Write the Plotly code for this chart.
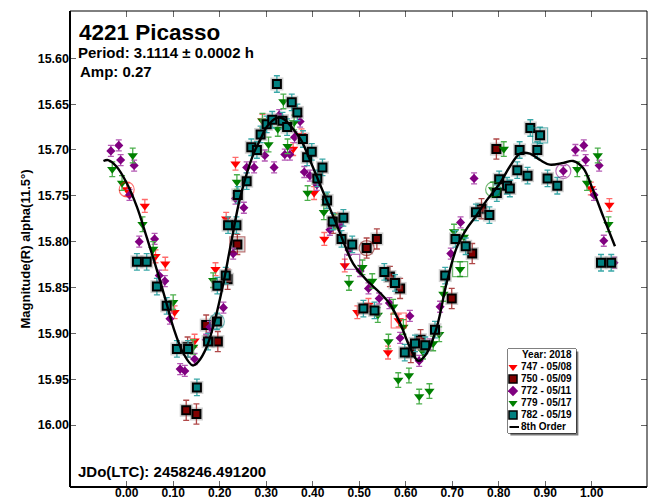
import plotly.graph_objects as go

# ---------------- data (phase, magnitude) ----------------
phase_747 = [0.000, 0.039, 0.062, 0.083, 0.103, 0.146, 0.191, 0.214, 0.234, 0.292, 0.358, 0.376,
             0.403, 0.425, 0.448, 0.469, 0.496, 0.520, 0.562, 0.585, 0.998, 1.038]
mag_747 = [15.743, 15.761, 15.816, 15.824, 15.877, 15.908, 15.830, 15.775, 15.715, 15.668, 15.699, 15.684,
           15.747, 15.797, 15.776, 15.826, 15.877, 15.869, 15.921, 15.886, 15.742, 15.760]

phase_750 = [0.128, 0.131, 0.150, 0.171, 0.196, 0.217, 0.238, 0.444, 0.516, 0.538, 0.566, 0.588,
             0.611, 0.632, 0.699, 0.743, 0.763, 0.795]
mag_750 = [15.984, 15.915, 15.988, 15.891, 15.909, 15.841, 15.803, 15.780, 15.807, 15.797, 15.838, 15.851,
           15.921, 15.907, 15.862, 15.813, 15.764, 15.699]

phase_772 = [-0.034, -0.017, -0.013, 0.006, 0.016, 0.027, 0.060, 0.070, 0.082, 0.093, 0.115, 0.125,
             0.146, 0.171, 0.179, 0.208, 0.229, 0.234, 0.252, 0.258, 0.274, 0.297, 0.317, 0.328,
             0.340, 0.351, 0.361, 0.373, 0.382, 0.394, 0.409, 0.437, 0.459, 0.478, 0.502, 0.520,
             0.543, 0.565, 0.588, 0.609, 0.629, 0.652, 0.674, 0.697, 0.718, 0.747, 0.939, 0.965,
             0.983, 0.987, 1.005, 1.016, 1.026, 1.048]
mag_772 = [15.701, 15.695, 15.711, 15.749, 15.717, 15.800, 15.797, 15.837, 15.843, 15.884, 15.939, 15.941,
           15.928, 15.907, 15.893, 15.872, 15.813, 15.753, 15.763, 15.719, 15.719, 15.706, 15.719, 15.662,
           15.705, 15.705, 15.686, 15.669, 15.724, 15.728, 15.738, 15.787, 15.782, 15.809, 15.832, 15.851,
           15.862, 15.867, 15.905, 15.881, 15.930, 15.912, 15.871, 15.813, 15.779, 15.731, 15.723, 15.700,
           15.695, 15.711, 15.749, 15.717, 15.799, 15.823]

phase_779 = [-0.031, -0.010, 0.013, 0.034, 0.057, 0.100, 0.143, 0.186, 0.237, 0.292, 0.305, 0.325,
             0.337, 0.346, 0.360, 0.389, 0.424, 0.429, 0.448, 0.478, 0.507, 0.528, 0.540, 0.563,
             0.573, 0.584, 0.595, 0.607, 0.629, 0.637, 0.651, 0.659, 0.672, 0.681, 0.704, 0.717,
             0.725, 0.788, 0.811, 0.969, 0.990, 1.013, 1.036]
mag_779 = [15.721, 15.736, 15.706, 15.781, 15.808, 15.866, 15.915, 15.842, 15.735, 15.668, 15.694, 15.677,
           15.647, 15.696, 15.670, 15.747, 15.768, 15.756, 15.778, 15.845, 15.828, 15.843, 15.880, 15.909,
           15.871, 15.951, 15.893, 15.946, 15.969, 15.920, 15.963, 15.911, 15.901, 15.857, 15.789, 15.830,
           15.795, 15.743, 15.699, 15.721, 15.736, 15.706, 15.781]

phase_782 = [0.022, 0.043, 0.065, 0.086, 0.108, 0.132, 0.151, 0.175, 0.194, 0.195, 0.213, 0.218,
             0.236, 0.239, 0.258, 0.268, 0.280, 0.288, 0.301, 0.313, 0.323, 0.335, 0.345, 0.355,
             0.367, 0.379, 0.388, 0.398, 0.410, 0.421, 0.431, 0.443, 0.462, 0.466, 0.485, 0.509,
             0.533, 0.554, 0.577, 0.598, 0.620, 0.642, 0.663, 0.685, 0.707, 0.729, 0.751, 0.780,
             0.796, 0.801, 0.818, 0.824, 0.840, 0.845, 0.862, 0.868, 0.883, 0.889, 0.905, 0.926,
             1.020, 1.042]
mag_782 = [15.822, 15.822, 15.849, 15.870, 15.917, 15.917, 15.959, 15.909, 15.887, 15.848, 15.837, 15.782,
           15.782, 15.749, 15.734, 15.697, 15.700, 15.683, 15.672, 15.667, 15.628, 15.668, 15.675, 15.648,
           15.659, 15.688, 15.708, 15.702, 15.731, 15.719, 15.755, 15.778, 15.797, 15.774, 15.803, 15.873,
           15.875, 15.833, 15.845, 15.921, 15.911, 15.913, 15.896, 15.837, 15.797, 15.805, 15.768, 15.771,
           15.747, 15.732, 15.739, 15.742, 15.722, 15.700, 15.728, 15.676, 15.700, 15.684, 15.731, 15.739,
           15.823, 15.823]

# per-session photometric error (mag)
err_747, err_750, err_772, err_779, err_782 = 0.007, 0.011, 0.006, 0.008, 0.009

# 8th-order Fourier fit, sampled from the reference curve
fit_phase = [-0.050, -0.040, -0.022, 0.000, 0.022, 0.043, 0.065, 0.085, 0.100, 0.122, 0.142, 0.154,
             0.172, 0.190, 0.208, 0.225, 0.244, 0.272, 0.287, 0.301, 0.323, 0.337, 0.358, 0.376,
             0.394, 0.416, 0.434, 0.452, 0.466, 0.487, 0.516, 0.545, 0.566, 0.588, 0.609, 0.627,
             0.645, 0.667, 0.688, 0.710, 0.731, 0.750, 0.774, 0.803, 0.824, 0.846, 0.867, 0.889,
             0.910, 0.939, 0.960, 0.982, 1.003, 1.025, 1.050]
fit_mag = [15.712, 15.711, 15.718, 15.736, 15.762, 15.795, 15.831, 15.866, 15.893, 15.922, 15.935, 15.931,
           15.915, 15.885, 15.845, 15.800, 15.752, 15.705, 15.689, 15.675, 15.665, 15.666, 15.677, 15.690,
           15.711, 15.738, 15.760, 15.782, 15.800, 15.824, 15.842, 15.856, 15.868, 15.889, 15.915, 15.930,
           15.922, 15.893, 15.845, 15.806, 15.786, 15.773, 15.755, 15.736, 15.718, 15.704, 15.704, 15.711,
           15.716, 15.714, 15.712, 15.720, 15.744, 15.773, 15.805]

# flagged (highlighted) observations: session, phase, magnitude, open symbol
flag_session = ["747", "750", "750", "772", "747", "779", "779", "772", "782", "782"]
flag_phase = [0.000, 0.238, 0.516, 0.485, 0.585, 0.717, 0.788, 0.939, 0.889, 0.194]
flag_mag = [15.743, 15.803, 15.807, 15.822, 15.886, 15.830, 15.743, 15.723, 15.684, 15.887]
flag_symbol = ["circle-open", "square-open", "circle-open", "square-open", "square-open",
               "square-open", "circle-open", "circle-open", "square-open", "circle-open"]

x_tick_vals = [0.0, 0.1, 0.2, 0.3, 0.4, 0.5, 0.6, 0.7, 0.8, 0.9, 1.0]
x_tick_text = ["0.00", "0.10", "0.20", "0.30", "0.40", "0.50", "0.60", "0.70", "0.80", "0.90", "1.00"]
y_tick_vals = [15.60, 15.65, 15.70, 15.75, 15.80, 15.85, 15.90, 15.95, 16.00]
y_tick_text = ["15.60", "15.65", "15.70", "15.75", "15.80", "15.85", "15.90", "15.95", "16.00"]

legend_labels = ["747 - 05/08", "750 - 05/09", "772 - 05/11", "779 - 05/17", "782 - 05/19"]
legend_rows = [1, 2, 3, 4, 5]

# ---------------- styling ----------------
FONT = "Liberation Sans, Arial, sans-serif"
sessions = [
    dict(key="747", x=phase_747, y=mag_747, e=err_747, sym="triangle-down", fill="#FF0000",
         edge="#FF0000", ew=0, ecol="#FF6B6B", size=9),
    dict(key="750", x=phase_750, y=mag_750, e=err_750, sym="square", fill="#800000",
         edge="#000000", ew=2, ecol="#B04848", size=8),
    dict(key="772", x=phase_772, y=mag_772, e=err_772, sym="diamond", fill="#800080",
         edge="#800080", ew=0, ecol="#B45AB4", size=7),
    dict(key="779", x=phase_779, y=mag_779, e=err_779, sym="triangle-down", fill="#008000",
         edge="#008000", ew=0, ecol="#4CAF4C", size=9),
    dict(key="782", x=phase_782, y=mag_782, e=err_782, sym="square", fill="#008080",
         edge="#000000", ew=2, ecol="#3AA8A8", size=8),
]
style = {s["key"]: s for s in sessions}

fig = go.Figure()

for s in sessions:
    if s["ew"]:
        # soft grey halo behind the black-edged squares
        fig.add_trace(go.Scatter(
            x=s["x"], y=s["y"], mode="markers", showlegend=False, hoverinfo="skip",
            marker=dict(symbol="square", size=s["size"] + 5, color="rgba(150,150,150,0.45)",
                        line=dict(width=0)),
        ))
    fig.add_trace(go.Scatter(
        x=s["x"], y=s["y"], mode="markers", showlegend=False,
        error_y=dict(type="constant", value=s["e"], color=s["ecol"], thickness=1.3, width=3),
        marker=dict(symbol=s["sym"], size=s["size"], color=s["fill"],
                    line=dict(color=s["edge"], width=s["ew"])),
    ))

for sess, px, py, sym in zip(flag_session, flag_phase, flag_mag, flag_symbol):
    fig.add_trace(go.Scatter(
        x=[px], y=[py], mode="markers", showlegend=False, hoverinfo="skip", opacity=0.55,
        marker=dict(symbol=sym, size=15, color=style[sess]["fill"], line=dict(width=1.2)),
    ))

fig.add_trace(go.Scatter(
    x=fit_phase, y=fit_mag, mode="lines", showlegend=False,
    line=dict(color="black", width=2.4, shape="spline", smoothing=1.0),
))

# ---------------- hand-made legend on its own small axis ----------------
for lab, row, s in zip(legend_labels, legend_rows, sessions):
    fig.add_trace(go.Scatter(
        x=[5], y=[6 + 12 * row], xaxis="x2", yaxis="y2", mode="markers", showlegend=False,
        hoverinfo="skip",
        marker=dict(symbol=s["sym"], size=8, color=s["fill"],
                    line=dict(color=s["edge"], width=1.5 if s["ew"] else 0)),
    ))
fig.add_trace(go.Scatter(
    x=[1.5, 11], y=[78, 78], xaxis="x2", yaxis="y2", mode="lines", showlegend=False,
    hoverinfo="skip", line=dict(color="black", width=2),
))

LEG_FONT = dict(family=FONT, size=10, color="black")
annotations = []
annotations.append(dict(xref="x2", yref="y2", x=66, y=6, text="<b>Year: 2018</b>", showarrow=False,
                        xanchor="right", yanchor="middle", font=LEG_FONT))
for lab, row in zip(legend_labels, legend_rows):
    annotations.append(dict(xref="x2", yref="y2", x=11, y=6 + 12 * row, text="<b>%s</b>" % lab,
                            showarrow=False, xanchor="left", yanchor="middle", font=LEG_FONT))
annotations.append(dict(xref="x2", yref="y2", x=11, y=78, text="<b>8th Order</b>", showarrow=False,
                        xanchor="left", yanchor="middle", font=LEG_FONT))

# chart texts
annotations += [
    dict(xref="paper", yref="paper", x=0.012, y=0.955, text="<b>4221 Picasso</b>", showarrow=False,
         xanchor="left", yanchor="middle", font=dict(family=FONT, size=22.5, color="black")),
    dict(xref="paper", yref="paper", x=0.011, y=0.912, text="<b>Period: 3.1114 ± 0.0002 h</b>",
         showarrow=False, xanchor="left", yanchor="middle", font=dict(family=FONT, size=15, color="black")),
    dict(xref="paper", yref="paper", x=0.014, y=0.873, text="<b>Amp: 0.27</b>", showarrow=False,
         xanchor="left", yanchor="middle", font=dict(family=FONT, size=15, color="black")),
    dict(xref="paper", yref="paper", x=0.011, y=0.033, text="<b>JDo(LTC): 2458246.491200</b>",
         showarrow=False, xanchor="left", yanchor="middle", font=dict(family=FONT, size=15, color="black")),
]

shapes = [
    # legend shadow and box
    dict(type="rect", xref="x2 domain", yref="y2 domain", x0=0.035, x1=1.035, y0=-0.03, y1=0.97,
         fillcolor="#7a7a7a", line=dict(width=0), layer="below"),
    dict(type="rect", xref="x2 domain", yref="y2 domain", x0=0, x1=1, y0=0, y1=1,
         fillcolor="white", line=dict(color="black", width=1), layer="below"),
    # plot frame: thin top/right, heavier left/bottom
    dict(type="rect", xref="paper", yref="paper", x0=0, x1=1, y0=0, y1=1,
         line=dict(color="black", width=1), layer="above"),
    dict(type="line", xref="paper", yref="paper", x0=0, x1=0, y0=0, y1=1,
         line=dict(color="black", width=2), layer="above"),
    dict(type="line", xref="paper", yref="paper", x0=0, x1=1, y0=0, y1=0,
         line=dict(color="black", width=2), layer="above"),
]

tickfont = dict(family=FONT, size=12.5, color="black", weight="bold")
xtickfont = dict(family=FONT, size=12, color="black", weight="bold")

fig.update_layout(
    width=649, height=500,
    margin=dict(l=70, r=2, t=11, b=13, autoexpand=False),
    paper_bgcolor="white", plot_bgcolor="white",
    showlegend=False,
    font=dict(family=FONT, color="black"),
    xaxis=dict(range=[-0.1219, 1.1189], tickvals=x_tick_vals, ticktext=x_tick_text,
               ticks="inside", ticklen=6, tickwidth=1, tickcolor="#666666", mirror="ticks",
               showline=False, showgrid=False, zeroline=False, tickfont=xtickfont, automargin=False,
               ticklabelstandoff=-3),
    yaxis=dict(range=[16.0676, 15.5484], tickvals=y_tick_vals, ticktext=y_tick_text,
               ticks="inside", ticklen=6, tickwidth=1, tickcolor="#666666", mirror="ticks",
               showline=False, showgrid=False, zeroline=False, tickfont=tickfont, automargin=False,
               title=dict(text="Magnitude(R) alpha(11.5°)", standoff=4,
                          font=dict(family=FONT, size=13, color="black", weight="bold"))),
    xaxis2=dict(domain=[(508 - 70) / 577, (576 - 70) / 577], range=[0, 68], anchor="y2",
                visible=False, fixedrange=True, automargin=False),
    yaxis2=dict(domain=[(487 - 433) / 476, (487 - 349) / 476], range=[84, 0], anchor="x2",
                visible=False, fixedrange=True, automargin=False),
    annotations=annotations,
    shapes=shapes,
)

fig.write_html("out.html", config={"displayModeBar": False},
               post_script="document.body.style.margin='0';")
